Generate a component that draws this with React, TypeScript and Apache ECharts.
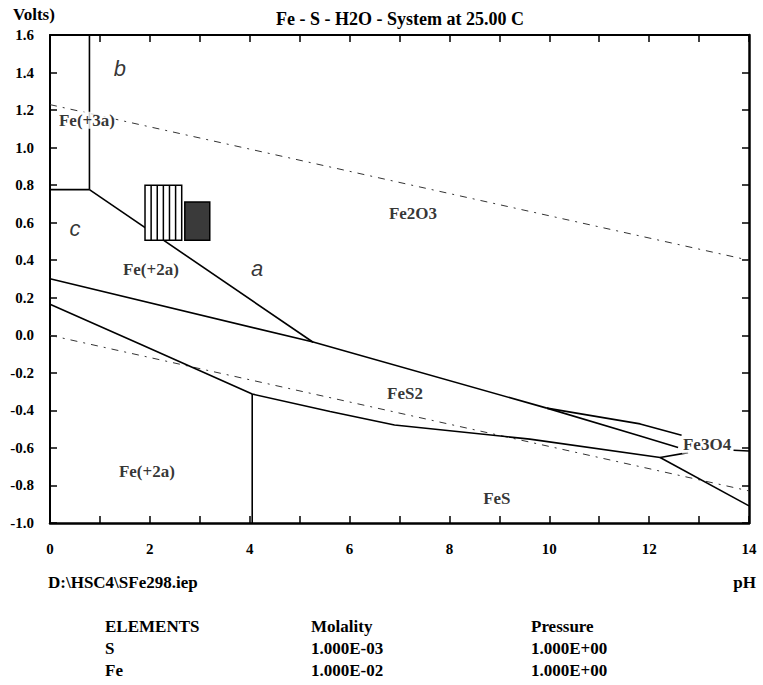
import React, { useEffect, useRef } from "react";
import * as echarts from "echarts";

const SERIF = '"Liberation Serif", "Times New Roman", serif';
const SANS = '"Liberation Sans", Arial, sans-serif';

// Axis ranges
const phRange = [0, 14];
const phStep = 1;
const eRange = [-1.0, 1.6];
const eStep = 0.2;

// Stability boundaries [pH, E(V)]
const fe3Fe2Vertical = [[0.79, 1.6], [0.79, 0.776]];
const fe3Fe2Horizontal = [[0, 0.776], [0.79, 0.776]];
const fe2o3Fe2Line = [[0.79, 0.776], [5.27, -0.037]];
const feS2UpperLine = [[0, 0.301], [5.27, -0.036], [9.95, -0.388]];
const feS2UpperBranch = [[9.95, -0.388], [11.82, -0.472], [12.65, -0.532]];
const feS2LowerBranch = [[9.95, -0.388], [11.82, -0.536], [12.58, -0.598]];
const feS2FeSLine = [[0, 0.165], [1.8, -0.046], [4.05, -0.313], [5.61, -0.406], [6.9, -0.478], [9.61, -0.553], [12.22, -0.651]];
const fe2FeSVertical = [[4.05, -0.313], [4.05, -1.0]];
const fe3o4LowerLine = [[12.22, -0.651], [12.78, -0.625]];
const feSFe3o4Line = [[12.22, -0.651], [14, -0.909]];
const fe3o4RightLine = [[13.69, -0.612], [14, -0.616]];

// Water stability lines
const o2WaterLine = [[0, 1.229], [14, 0.4]];
const h2WaterLine = [[0, 0.0], [14, -0.829]];

// Annotation boxes [pH0, E0, pH1, E1, stripes]
const stripedBox = [1.903, 0.506, 2.638, 0.799, 6];
const darkBox = [2.7, 0.506, 3.2, 0.71, 0];

// Region labels [pH, E]
const regionLabels = [
  { text: "Fe(+3a)", ph: 0.74, e: 1.146 },
  { text: "Fe2O3", ph: 7.27, e: 0.65 },
  { text: "Fe(+2a)", ph: 2.02, e: 0.351 },
  { text: "FeS2", ph: 7.11, e: -0.311 },
  { text: "Fe3O4", ph: 13.16, e: -0.584 },
  { text: "Fe(+2a)", ph: 1.94, e: -0.728 },
  { text: "FeS", ph: 8.95, e: -0.872 },
];
const maskedLabels = ["Fe(+3a)", "Fe3O4"];
const letterLabels = [
  { text: "b", ph: 1.4, e: 1.424 },
  { text: "c", ph: 0.5, e: 0.57 },
  { text: "a", ph: 4.15, e: 0.356 },
];

const titleText = "Fe - S - H2O - System at 25.00 C";
const yUnitText = "Volts)";
const xUnitText = "pH";
const fileText = "D:\\HSC4\\SFe298.iep";
const tableHeader = ["ELEMENTS", "Molality", "Pressure"];
const tableRows = [
  ["S", "1.000E-03", "1.000E+00"],
  ["Fe", "1.000E-02", "1.000E+00"],
];

const boundarySets = [
  fe3Fe2Vertical,
  fe3Fe2Horizontal,
  fe2o3Fe2Line,
  feS2UpperLine,
  feS2UpperBranch,
  feS2LowerBranch,
  feS2FeSLine,
  fe2FeSVertical,
  fe3o4LowerLine,
  feSFe3o4Line,
  fe3o4RightLine,
];
const waterSets = [o2WaterLine, h2WaterLine];

export default function App() {
  const ref = useRef<HTMLDivElement>(null);
  useEffect(() => {
    document.body.style.margin = "0";
    if (!ref.current) return;
    const chart = echarts.init(ref.current, undefined, { renderer: "svg" });

    const textBase = { fontFamily: SERIF, fontWeight: "bold", fill: "#000" };
    const colX = [105, 311, 531];
    const rowY = [627, 649, 671];
    const graphics: any[] = [
      { type: "text", left: 13, top: 6, style: { ...textBase, text: yUnitText, fontSize: 17 } },
      { type: "text", left: 48, top: 574, style: { ...textBase, text: fileText, fontSize: 17 } },
      { type: "text", right: 7, top: 574, style: { ...textBase, text: xUnitText, fontSize: 17 } },
    ];
    tableHeader.forEach((t, i) =>
      graphics.push({ type: "text", left: colX[i], top: rowY[0] - 9, style: { ...textBase, text: t, fontSize: 17 } })
    );
    tableRows.forEach((row, r) =>
      row.forEach((t, i) =>
        graphics.push({ type: "text", left: colX[i], top: rowY[r + 1] - 9, style: { ...textBase, text: t, fontSize: 17 } })
      )
    );

    const axisLineStyle = (w: number) => ({ show: true, onZero: false, lineStyle: { color: "#000", width: w } });
    const tick = { show: true, inside: true, length: 7, lineStyle: { color: "#000", width: 1.5 } };

    const series: any[] = [];
    boundarySets.forEach((d) =>
      series.push({
        type: "line",
        data: d,
        showSymbol: false,
        symbol: "none",
        lineStyle: { color: "#000", width: 1.6 },
        z: 3,
        silent: true,
      })
    );
    waterSets.forEach((d) =>
      series.push({
        type: "line",
        data: d,
        showSymbol: false,
        symbol: "none",
        lineStyle: { color: "#333", width: 1, type: [7, 6, 2, 6] },
        z: 2,
        silent: true,
      })
    );
    series.push({
      type: "custom",
      z: 5,
      silent: true,
      encode: { x: [0, 2], y: [1, 3] },
      data: [stripedBox, darkBox],
      renderItem: (_p: any, api: any) => {
        const a = api.coord([api.value(0), api.value(3)]);
        const b = api.coord([api.value(2), api.value(1)]);
        const cols = api.value(4);
        const w = b[0] - a[0];
        const h = b[1] - a[1];
        const children: any[] = [
          {
            type: "rect",
            shape: { x: a[0], y: a[1], width: w, height: h },
            style: { fill: cols > 0 ? "#fff" : "#3a3a3a", stroke: "#000", lineWidth: 1.5 },
          },
        ];
        for (let i = 1; i < cols; i++) {
          const x = a[0] + (w * i) / cols;
          children.push({
            type: "line",
            shape: { x1: x, y1: a[1], x2: x, y2: b[1] },
            style: { stroke: "#000", lineWidth: 1.5 },
          });
        }
        return { type: "group", children };
      },
    });
    series.push({
      type: "scatter",
      symbolSize: 0,
      z: 10,
      silent: true,
      data: regionLabels.map((l) => ({
        value: [l.ph, l.e],
        label: {
          show: true,
          position: "inside",
          formatter: l.text,
          fontFamily: SERIF,
          fontWeight: "bold",
          fontSize: 17,
          color: "#000",
          backgroundColor: maskedLabels.includes(l.text) ? "#fff" : "transparent",
          padding: [0, 1],
        },
      })),
    });
    series.push({
      type: "scatter",
      symbolSize: 0,
      z: 10,
      silent: true,
      data: letterLabels.map((l) => ({
        value: [l.ph, l.e],
        label: {
          show: true,
          position: "inside",
          formatter: l.text,
          fontFamily: SANS,
          fontStyle: "italic",
          fontSize: 22,
          color: "#000",
        },
      })),
    });

    chart.setOption({
      animation: false,
      backgroundColor: "#fff",
      title: {
        text: titleText,
        left: 395,
        top: 5,
        textAlign: "center",
        textStyle: { fontFamily: SERIF, fontWeight: "bold", fontSize: 18, color: "#000" },
      },
      grid: { left: 50, right: 14, top: 35, bottom: 162, containLabel: false },
      xAxis: [
        {
          type: "value",
          min: phRange[0],
          max: phRange[1],
          interval: phStep,
          position: "bottom",
          axisLine: axisLineStyle(2.5),
          axisTick: tick,
          splitLine: { show: false },
          axisLabel: {
            margin: 18,
            fontFamily: SERIF,
            fontWeight: "bold",
            fontSize: 15,
            color: "#000",
            formatter: (v: number) => (Math.round(v) % 2 === 0 ? String(Math.round(v)) : ""),
          },
        },
        {
          type: "value",
          min: phRange[0],
          max: phRange[1],
          interval: phStep,
          position: "top",
          axisLine: axisLineStyle(2),
          axisTick: tick,
          splitLine: { show: false },
          axisLabel: { show: false },
        },
      ],
      yAxis: [
        {
          type: "value",
          min: eRange[0],
          max: eRange[1],
          interval: eStep,
          position: "left",
          axisLine: axisLineStyle(2),
          axisTick: tick,
          splitLine: { show: false },
          axisLabel: {
            margin: 16,
            fontFamily: SERIF,
            fontWeight: "bold",
            fontSize: 15,
            color: "#000",
            formatter: (v: number) => v.toFixed(1),
          },
        },
        {
          type: "value",
          min: eRange[0],
          max: eRange[1],
          interval: eStep,
          position: "right",
          axisLine: axisLineStyle(2.5),
          axisTick: tick,
          splitLine: { show: false },
          axisLabel: { show: false },
        },
      ],
      graphic: graphics,
      series,
    });
    return () => chart.dispose();
  }, []);
  return <div ref={ref} style={{ width: 763, height: 685 }} />;
}
